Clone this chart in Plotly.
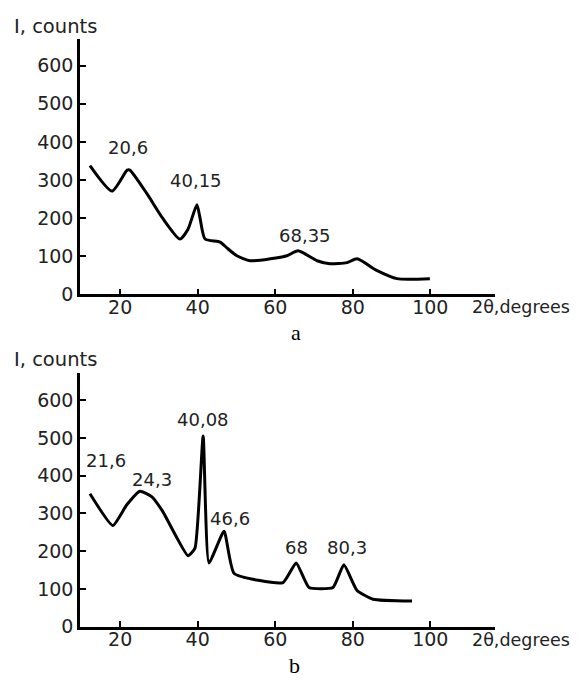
import plotly.graph_objects as go

# ---- data ----
a_x = [12.2, 17.9, 21.8, 22.5, 26.9, 31.0, 35.4, 37.5, 39.8, 40.6, 41.9, 45.8, 47.6, 50.1, 53.5,
       58.7, 63.0, 65.9, 70.8, 74.1, 78.5, 81.1, 86.3, 91.4, 99.9]
a_y = [338, 271, 326, 326, 264, 199, 145, 171, 235, 200, 145, 137, 121, 101, 88,
       93, 101, 114, 88, 80, 83, 93, 62, 41, 41]

b_x = [12.2, 18.1, 21.7, 25.1, 28.2, 31.0, 37.5, 39.3, 41.4, 42.9, 46.8, 49.4, 62.0,
       65.4, 68.7, 74.9, 77.7, 81.1, 85.2, 95.3]
b_y = [352, 268, 323, 359, 344, 305, 188, 208, 505, 169, 253, 141, 117,
       169, 104, 104, 164, 96, 73, 68]

x_ticks = [20, 40, 60, 80, 100]
y_ticks = [0, 100, 200, 300, 400, 500, 600]

a_labels = ["20,6", "40,15", "68,35"]
a_lab_x = [22.0, 39.6, 67.8]
a_lab_y = [385, 300, 155]

b_labels = ["21,6", "24,3", "40,08", "46,6", "68", "80,3"]
b_lab_x = [16.3, 28.3, 41.4, 48.4, 65.6, 78.4]
b_lab_y = [440, 390, 550, 287, 210, 210]

FONT = "DejaVu Sans"
FS = 19
COL = "#222"

# default page body margin is 8px on every side: keep page exactly 581x691
OFF = 8
W, H = 581 - 2 * OFF, 691 - 2 * OFF

def fx(px):
    return (px - OFF) / W

def fy(py):
    return 1 - (py - OFF) / H

fig = go.Figure()
fig.add_trace(go.Scatter(x=a_x, y=a_y, mode="lines", xaxis="x", yaxis="y",
                         line=dict(color="black", width=3, shape="spline", smoothing=0.6),
                         showlegend=False, hoverinfo="skip"))
fig.add_trace(go.Scatter(x=b_x, y=b_y, mode="lines", xaxis="x2", yaxis="y2",
                         line=dict(color="black", width=3, shape="spline", smoothing=0.45),
                         showlegend=False, hoverinfo="skip"))

xdom = [fx(80), fx(495)]
xr = [9.63, 116.7]

def xax(anchor):
    return dict(domain=xdom, range=xr, anchor=anchor, showline=True, linecolor="black",
                linewidth=2.5, ticks="inside", ticklen=6, tickwidth=2, tickcolor="black",
                tickvals=x_ticks, showgrid=False, zeroline=False, ticklabelstandoff=-6,
                tickfont=dict(family=FONT, size=FS, color=COL))

def yax(anchor, dom, top):
    return dict(domain=dom, range=[0, top], anchor=anchor, showline=True, linecolor="black",
                linewidth=2.5, ticks="inside", ticklen=6, tickwidth=2, tickcolor="black",
                tickvals=y_ticks, showgrid=False, zeroline=False,
                tickfont=dict(family=FONT, size=FS, color=COL))

annotations = []
for t, x, y in zip(a_labels, a_lab_x, a_lab_y):
    annotations.append(dict(text=t, x=x, y=y, xref="x", yref="y", showarrow=False,
                            font=dict(family=FONT, size=18, color=COL)))
for t, x, y in zip(b_labels, b_lab_x, b_lab_y):
    annotations.append(dict(text=t, x=x, y=y, xref="x2", yref="y2", showarrow=False,
                            font=dict(family=FONT, size=18, color=COL)))

for yc in [27, 365]:
    annotations.append(dict(text="I, counts", x=fx(12), y=fy(yc), xref="paper", yref="paper",
                            xanchor="left", yanchor="middle", showarrow=False,
                            font=dict(family=FONT, size=19.5, color=COL)))
for yc in [312, 650]:
    annotations.append(dict(text="2θ,degrees", x=fx(572), y=fy(yc), xref="paper", yref="paper",
                            xanchor="right", yanchor="middle", showarrow=False,
                            font=dict(family=FONT, size=17.5, color=COL)))
for t, xc, yc in [("a", 296, 338), ("b", 294, 676)]:
    annotations.append(dict(text=t, x=fx(xc), y=fy(yc), xref="paper", yref="paper",
                            xanchor="center", yanchor="middle", showarrow=False,
                            font=dict(family="Liberation Serif", size=22, color="black")))

fig.update_layout(
    width=W, height=H, margin=dict(l=0, r=0, t=0, b=0),
    paper_bgcolor="white", plot_bgcolor="white",
    xaxis=xax("y"), yaxis=yax("x", [fy(299), fy(40)], 669),
    xaxis2=xax("y2"), yaxis2=yax("x2", [fy(637), fy(379)], 672),
    annotations=annotations,
)

fig.write_html("out.html", config={"displayModeBar": False})
